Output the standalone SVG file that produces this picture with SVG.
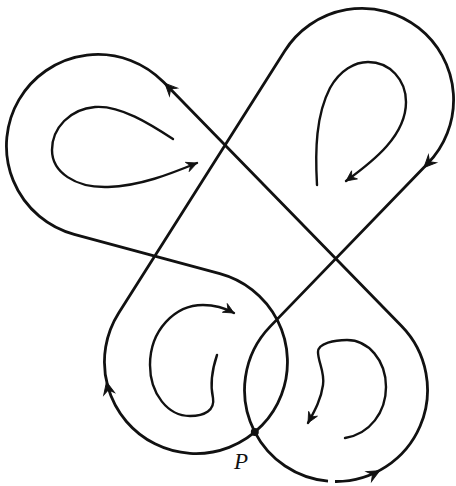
<svg xmlns="http://www.w3.org/2000/svg" xmlns:xlink="http://www.w3.org/1999/xlink" width="456" height="486" viewBox="0 0 456 486">
<style>
.curve{fill:none;stroke:#111;stroke-width:2.8;stroke-linecap:butt;stroke-linejoin:round}
.flow{fill:none;stroke:#111;stroke-width:2.4;stroke-linecap:round}
.head{fill:#111;stroke:#111;stroke-width:1;stroke-linejoin:miter}
.lbl{font-family:"Liberation Serif",serif;font-style:italic;font-size:23px;fill:#111}
</style>
<defs>
<path id="arr" class="head" d="M0,0 L-12,-5.5 L-8,0 L-12,5.5 Z"/>
<marker id="m" viewBox="-12 -6 13 12" markerWidth="13" markerHeight="12" refX="0" refY="0" orient="auto" markerUnits="userSpaceOnUse">
<path d="M0,0 L-10.5,-5 L-7,0 L-10.5,5 Z" fill="#111" stroke="#111" stroke-width="0.8"/>
</marker>
</defs>
<rect width="456" height="486" fill="#fff"/>
<g id="connectors">
<g id="closed-curve">
<path class="curve" d="M254.8,432.1 A91.5,91.5 0 0 0 328,481.15 M335,481.5 A91.5,91.5 0 0 0 401.5,326.1 L163.5,82.1 A91.5,91.5 0 1 0 74.2,234.3 L219.8,273.7 A91.5,91.5 0 1 1 118.7,313 L284.7,51 A91.5,91.5 0 1 1 427.7,163.6 L270.3,326.4 A91.5,91.5 0 0 0 254.8,432.1"/>
<use href="#arr" xlink:href="#arr" transform="translate(165,83.4) rotate(-134.3)"/>
<use href="#arr" xlink:href="#arr" transform="translate(424,167.5) rotate(134.06)"/>
<use href="#arr" xlink:href="#arr" transform="translate(106.5,382) rotate(-102.6)"/>
<use href="#arr" xlink:href="#arr" transform="translate(379.5,470.8) rotate(-28.2)"/>
</g>
<g id="flows">
<path id="flow-top-left" class="flow" marker-end="url(#m)" d="M173,139 C150,124 120,105 95,107 C70,109 52,128 52,150 C52,172 75,188 108,187 C140,186 170,174 197,163"/>
<path id="flow-top-right" class="flow" marker-end="url(#m)" d="M317,185 C315,150 316,115 330,88 C340,70 355,62 368,62 C390,62 406,80 406,102 C406,135 375,160 346,181"/>
<path id="flow-bottom-left" class="flow" marker-end="url(#m)" d="M217,355 C212,370 210,385 213,398 C215,410 205,416 190,416 C168,416 150,394 150,365 C150,330 175,305 203,305 C215,305 225,308 234,313"/>
<path id="flow-bottom-right" class="flow" marker-end="url(#m)" d="M345,438 C370,434 386,412 386,387 C386,360 368,340 347,340 C335,340 318,343 318,352 C318,362 325,372 323,385 C321,400 314,412 308,423"/>
</g>
</g>
<g id="point-P">
<circle cx="254.8" cy="432.1" r="4" fill="#111"/>
<text class="lbl" x="241" y="469" text-anchor="middle">P</text>
</g>
</svg>
